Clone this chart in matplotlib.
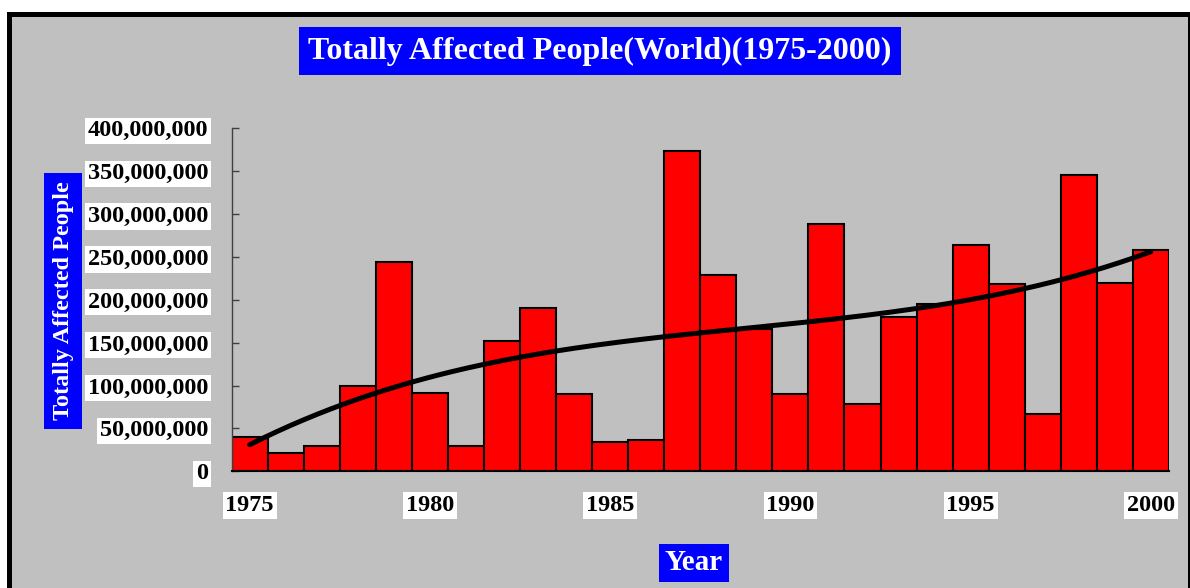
import numpy as np
import matplotlib
matplotlib.use("Agg")
import matplotlib.pyplot as plt
from matplotlib.patches import Rectangle

years = np.arange(1975, 2001)
affected = [40e6, 21e6, 30e6, 100e6, 244e6, 91e6, 30e6, 152e6, 190e6, 90e6,
            34e6, 36e6, 373e6, 229e6, 166e6, 90e6, 288e6, 79e6, 180e6, 195e6,
            264e6, 218e6, 67e6, 345e6, 220e6, 258e6]
ytick_vals = np.arange(0, 400e6 + 1, 50e6)
xtick_vals = [1975, 1980, 1985, 1990, 1995, 2000]

W, H = 1190, 588
fig = plt.figure(figsize=(W / 100, H / 100), dpi=100)
fig.patch.set_facecolor("white")

# chart area with black frame
fig.patches.append(Rectangle((8.5 / W, -0.1), (1189.5 - 8.5) / W, 1 - 14.5 / H + 0.1,
                             facecolor="#C0C0C0", edgecolor="black", linewidth=3.6,
                             transform=fig.transFigure, zorder=0))

ax = fig.add_axes([231.7 / W, (H - 471.3) / H, (1168.9 - 231.7) / W, 343 / H])
ax.set_zorder(2)
ax.set_facecolor("none")

ax.bar(years, affected, width=1, color="#FF0000", edgecolor="black", linewidth=1.5, zorder=2)

# cubic trend line (like the spreadsheet polynomial trendline)
coef = np.polyfit(years - 1974, affected, 3)
xs = np.linspace(1975, 2000, 200)
ax.plot(xs, np.polyval(coef, xs - 1974), color="black", linewidth=3.6,
        solid_capstyle="round", zorder=3)

ax.set_xlim(1974.5, 2000.5)
ax.set_ylim(0, 400e6)
for s in ["top", "right"]:
    ax.spines[s].set_visible(False)
ax.spines["left"].set_color("#404040")
ax.spines["left"].set_linewidth(1)
ax.spines["bottom"].set_color("black")
ax.spines["bottom"].set_linewidth(1.5)
ax.spines["bottom"].set_zorder(4)

font = dict(family="Liberation Serif", weight="bold")
ax.set_yticks(ytick_vals)
ax.set_yticklabels([f"{int(v):,}" for v in ytick_vals], fontsize=17.5, **font)
ax.set_xticks(xtick_vals)
ax.set_xticklabels([str(v) for v in xtick_vals], fontsize=17.5, **font)
ax.tick_params(axis="y", direction="in", length=5, width=1, color="#404040", pad=17)
ax.tick_params(axis="x", length=0, pad=17)
for lab in ax.get_yticklabels() + ax.get_xticklabels():
    lab.set_bbox(dict(facecolor="white", edgecolor="none", pad=2))

fig.text(600 / W, 1 - 51 / H, "Totally Affected People(World)(1975-2000)",
         ha="center", va="center", color="white", fontsize=23,
         bbox=dict(facecolor="#0000FF", edgecolor="none", pad=7), **font)
fig.text(63 / W, 1 - 301 / H, "Totally Affected People", rotation=90,
         ha="center", va="center", color="white", fontsize=17.5,
         bbox=dict(facecolor="#0000FF", edgecolor="none", pad=6), **font)
fig.text(694 / W, 1 - 563 / H, "Year", ha="center", va="center", color="white",
         fontsize=21, bbox=dict(facecolor="#0000FF", edgecolor="none", pad=4), **font)

fig.savefig("out.png", dpi=100)
